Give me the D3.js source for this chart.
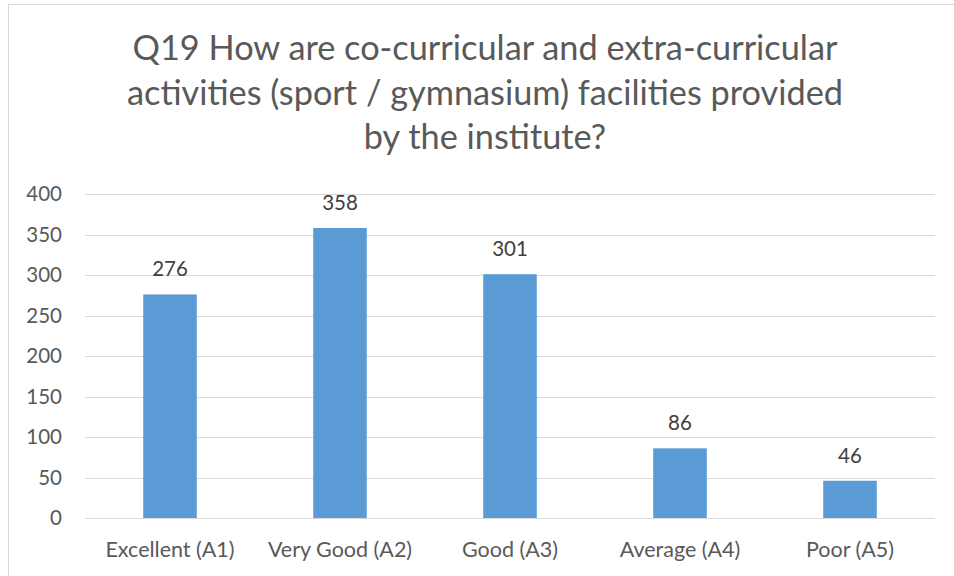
<!DOCTYPE html>
<html>
<head>
<meta charset="utf-8">
<script src="https://cdn.jsdelivr.net/npm/d3@7"></script>
<style>
  html, body { margin: 0; padding: 0; background: #fff; }
  svg { display: block; font-family: Lato, "Open Sans", sans-serif; }
</style>
</head>
<body>
<svg id="chart" width="954" height="576"></svg>
<script>
const titleLines = [
  "Q19 How are co-curricular and extra-curricular",
  "activities (sport / gymnasium) facilities provided",
  "by the institute?"
];
const categories = ["Excellent (A1)", "Very Good (A2)", "Good (A3)", "Average (A4)", "Poor (A5)"];
const values = [276, 358, 301, 86, 46];
const yTicks = [0, 50, 100, 150, 200, 250, 300, 350, 400];

const svg = d3.select("#chart");
const W = 954, H = 576;
const margin = { left: 85, right: 19, top: 194, bottom: 58 };

// chart frame
svg.append("rect")
  .attr("x", 8.5).attr("y", 4.5)
  .attr("width", 960).attr("height", 600)
  .attr("fill", "#fff").attr("stroke", "#d9d9d9").attr("stroke-width", 1);

const x = d3.scaleBand()
  .domain(categories)
  .range([margin.left, W - margin.right])
  .paddingInner(0.685)
  .paddingOuter(0.3425);

const y = d3.scaleLinear()
  .domain([0, 400])
  .range([H - margin.bottom, margin.top]);

// gridlines
const grid = svg.append("g");
grid.selectAll("line")
  .data(yTicks)
  .join("line")
  .attr("x1", margin.left).attr("x2", W - margin.right)
  .attr("y1", d => Math.round(y(d)) + 0.5).attr("y2", d => Math.round(y(d)) + 0.5)
  .attr("stroke", "#d9d9d9").attr("stroke-width", 1);

// y axis labels
const yAxis = d3.axisLeft(y).tickValues(yTicks).tickSize(0).tickPadding(0);
const yg = svg.append("g")
  .attr("transform", `translate(${margin.left - 23},0)`)
  .call(yAxis);
yg.select(".domain").remove();
yg.selectAll("text")
  .attr("fill", "#595959")
  .style("font-size", "20.5px")
  .style("font-family", "Lato, 'Open Sans', sans-serif");

// bars
svg.append("g").selectAll("rect")
  .data(values)
  .join("rect")
  .attr("x", (d, i) => x(categories[i]))
  .attr("width", x.bandwidth())
  .attr("y", d => y(d))
  .attr("height", d => y(0) - y(d))
  .attr("fill", "#5b9bd5");

// data labels
svg.append("g").selectAll("text")
  .data(values)
  .join("text")
  .attr("x", (d, i) => x(categories[i]) + x.bandwidth() / 2)
  .attr("y", d => y(d) - 18)
  .attr("text-anchor", "middle")
  .attr("fill", "#404040")
  .style("font-size", "20.5px")
  .text(d => d);

// x axis labels
const xAxis = d3.axisBottom(x).tickSize(0).tickPadding(0);
const xg = svg.append("g")
  .attr("transform", `translate(0,${H - margin.bottom})`)
  .call(xAxis);
xg.select(".domain").remove();
xg.selectAll("text")
  .attr("dy", null)
  .attr("y", 39)
  .attr("fill", "#595959")
  .style("font-size", "21.5px")
  .style("font-family", "Lato, 'Open Sans', sans-serif");

// title
const title = svg.append("g");
title.selectAll("text")
  .data(titleLines)
  .join("text")
  .attr("x", 485)
  .attr("y", (d, i) => 60 + i * 44.5)
  .attr("text-anchor", "middle")
  .attr("fill", "#595959")
  .style("font-size", "34.3px")
  .text(d => d);
</script>
</body>
</html>
